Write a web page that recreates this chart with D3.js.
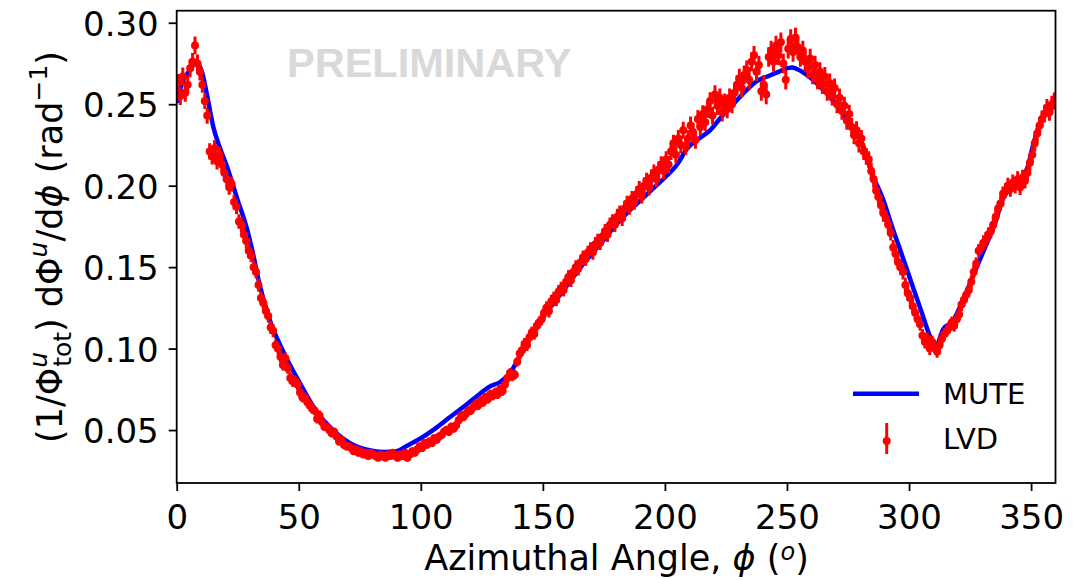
<!DOCTYPE html>
<html><head><meta charset="utf-8">
<script src="https://cdn.jsdelivr.net/npm/d3@7"></script>
<style>body{margin:0;background:#fff} svg{display:block} text{font-family:"DejaVu Sans",sans-serif}</style>
</head><body><svg id="c" width="1078" height="580"></svg>
<script>
const xTicks=[0,50,100,150,200,250,300,350];
const xTickLabels=["0","50","100","150","200","250","300","350"];
const yTicks=[0.05,0.10,0.15,0.20,0.25,0.30];
const yTickLabels=["0.05","0.10","0.15","0.20","0.25","0.30"];
const seriesNames=["MUTE","LVD"];

const muteAngle=[0,2.5,5,8,10.5,12.5,15,17.5,21,25,28.5,31,34,38,44,50,57,64,71,78,85,90,94,100,105,112,119,124,128,132.5,136.5,140.5,145,150,155,160,165,170,175,180,185,190,195,200,205,209,214,218.5,223,228,233,238,242,246,250,252,255.5,259,262.5,266,269,273,276,279,281.5,285,289.5,293,296.5,302,305,308.5,311,314,318,321,325,328,332,335,338.5,342.5,346,348.5,351,355,358,360];
const muteValue=[0.251,0.264,0.270,0.2755,0.269,0.255,0.236,0.224,0.210,0.191,0.175,0.160,0.139,0.118,0.097,0.080,0.062,0.050,0.042,0.038,0.0365,0.037,0.040,0.045,0.050,0.058,0.066,0.072,0.0765,0.0795,0.085,0.095,0.107,0.119,0.129,0.139,0.149,0.158,0.167,0.176,0.184,0.191,0.198,0.205,0.213,0.2226,0.229,0.234,0.242,0.250,0.258,0.2645,0.267,0.2695,0.272,0.2726,0.2706,0.267,0.2624,0.257,0.252,0.244,0.238,0.231,0.223,0.207,0.191,0.175,0.160,0.136,0.123,0.108,0.1015,0.112,0.117,0.126,0.140,0.151,0.165,0.176,0.192,0.200,0.204,0.211,0.226,0.243,0.247,0.250];

const lvdAngle=d3.range(0.5,360,1);
const lvdValue=[
0.263,0.255,0.267,0.257,0.262,0.272,0.276,0.286,0.275,0.270,
0.262,0.252,0.243,0.221,0.218,0.223,0.215,0.219,0.213,0.208,
0.204,0.199,0.201,0.190,0.187,0.178,0.176,0.170,0.166,0.160,
0.157,0.150,0.147,0.139,0.131,0.128,0.123,0.120,0.113,0.111,
0.102,0.100,0.095,0.090,0.094,0.088,0.082,0.080,0.080,0.078,
0.073,0.070,0.070,0.067,0.065,0.063,0.062,0.057,0.059,0.055,
0.052,0.052,0.050,0.048,0.049,0.046,0.043,0.044,0.041,0.040,
0.040,0.039,0.037,0.038,0.036,0.037,0.035,0.036,0.034,0.036,
0.035,0.034,0.033,0.035,0.034,0.033,0.035,0.034,0.036,0.034,
0.033,0.035,0.034,0.036,0.033,0.035,0.037,0.036,0.038,0.040,
0.039,0.042,0.041,0.043,0.042,0.045,0.044,0.046,0.047,0.049,
0.050,0.049,0.052,0.051,0.053,0.056,0.059,0.058,0.060,0.062,
0.062,0.064,0.066,0.065,0.068,0.067,0.070,0.069,0.072,0.071,
0.073,0.072,0.075,0.074,0.078,0.082,0.085,0.083,0.084,0.092,
0.097,0.099,0.103,0.102,0.107,0.110,0.109,0.114,0.116,0.118,
0.122,0.125,0.123,0.129,0.131,0.130,0.135,0.137,0.136,0.141,
0.144,0.142,0.147,0.150,0.149,0.153,0.156,0.155,0.159,0.161,
0.159,0.164,0.166,0.165,0.169,0.172,0.170,0.176,0.178,0.176,
0.181,0.183,0.180,0.186,0.189,0.187,0.192,0.190,0.195,0.198,
0.194,0.200,0.203,0.199,0.205,0.208,0.204,0.210,0.213,0.209,
0.216,0.213,0.221,0.226,0.219,0.229,0.225,0.234,0.224,0.229,
0.237,0.233,0.228,0.241,0.236,0.244,0.239,0.247,0.252,0.243,
0.256,0.249,0.254,0.245,0.251,0.247,0.254,0.250,0.257,0.262,
0.266,0.260,0.268,0.271,0.265,0.276,0.280,0.270,0.274,0.258,
0.262,0.256,0.279,0.283,0.276,0.286,0.280,0.288,0.275,0.265,
0.284,0.290,0.282,0.291,0.285,0.279,0.283,0.276,0.272,0.278,
0.268,0.274,0.265,0.270,0.262,0.267,0.258,0.263,0.255,0.260,
0.250,0.254,0.246,0.249,0.240,0.244,0.236,0.231,0.234,0.226,
0.229,0.221,0.218,0.216,0.209,0.204,0.197,0.193,0.188,0.183,
0.180,0.176,0.171,0.162,0.158,0.153,0.150,0.147,0.139,0.134,
0.131,0.126,0.122,0.118,0.115,0.108,0.104,0.106,0.100,0.104,
0.101,0.098,0.102,0.106,0.109,0.111,0.113,0.116,0.114,0.118,
0.121,0.127,0.130,0.133,0.136,0.141,0.147,0.152,0.160,0.162,
0.165,0.167,0.170,0.172,0.176,0.181,0.186,0.189,0.195,0.197,
0.200,0.198,0.202,0.200,0.204,0.199,0.205,0.203,0.208,0.214,
0.219,0.226,0.232,0.237,0.241,0.244,0.248,0.245,0.250,0.252];
// error half-width read per 10-degree band
const lvdErrorBand=[0.0055,0.005,0.0045,0.004,0.0035,0.003,0.0025,0.0022,0.0021,0.0022,
0.0024,0.0026,0.0028,0.003,0.0035,0.004,0.0042,0.0045,0.0048,0.005,
0.0052,0.0054,0.0056,0.0058,0.006,0.006,0.0058,0.0056,0.0052,0.0046,
0.004,0.0036,0.004,0.0045,0.0048,0.0052];

const svg=d3.select("#c");
const L=176.7,R=1055.5,T=10.7,B=483;
const x=d3.scaleLinear().domain([0,360]).range([L,R]);
const y=d3.scaleLinear().domain([0.0175,0.3074]).range([B,T]);

svg.append("defs").append("clipPath").attr("id","clip").append("rect")
  .attr("x",L).attr("y",T).attr("width",R-L).attr("height",B-T);

svg.append("text").attr("x",287).attr("y",77)
  .style("font-family","'Liberation Sans',Arial,sans-serif").style("font-weight","bold")
  .style("font-size","41.5px").attr("fill","#d9d9d9").text("PRELIMINARY");

const plot=svg.append("g").attr("clip-path","url(#clip)");
const line=d3.line().x((d,i)=>x(muteAngle[i])).y(d=>y(d)).curve(d3.curveMonotoneX);
plot.append("path").datum(muteValue).attr("d",line).attr("fill","none")
  .attr("stroke","#0000ff").attr("stroke-width",4.5);

const pts=lvdValue.map((v,i)=>({a:lvdAngle[i],v:v,e:lvdErrorBand[Math.floor(i/10)]}));
plot.append("g").selectAll("line").data(pts).join("line")
  .attr("x1",d=>x(d.a)).attr("x2",d=>x(d.a))
  .attr("y1",d=>y(d.v-d.e)).attr("y2",d=>y(d.v+d.e))
  .attr("stroke","#ff0000").attr("stroke-width",3);
plot.append("g").selectAll("circle").data(pts).join("circle")
  .attr("cx",d=>x(d.a)).attr("cy",d=>y(d.v)).attr("r",4).attr("fill","#ff0000");

const xAxis=d3.axisBottom(x).tickValues(xTicks).tickFormat((d,i)=>xTickLabels[i]).tickSize(8).tickPadding(6);
const gx=svg.append("g").attr("transform",`translate(0,${B})`).call(xAxis);
gx.select(".domain").remove();
gx.selectAll(".tick line").attr("stroke","#000").attr("stroke-width",1.8);
gx.selectAll(".tick text").style("font-size","34px").attr("fill","#000")
  .attr("dy",null).attr("y",46);

const yAxis=d3.axisLeft(y).tickValues(yTicks).tickFormat((d,i)=>yTickLabels[i]).tickSize(8).tickPadding(6);
const gy=svg.append("g").attr("transform",`translate(${L},0)`).call(yAxis);
gy.select(".domain").remove();
gy.selectAll(".tick line").attr("stroke","#000").attr("stroke-width",1.8);
gy.selectAll(".tick text").style("font-size","34px").attr("fill","#000")
  .attr("x",-18).attr("dy",null).attr("y",12.5);

svg.append("rect").attr("x",L).attr("y",T).attr("width",R-L).attr("height",B-T)
  .attr("fill","none").attr("stroke","#000").attr("stroke-width",1.8);

const xl=svg.append("text").attr("x",616.5).attr("y",570).attr("text-anchor","middle")
  .style("font-size","35px").attr("fill","#000");
xl.append("tspan").text("Azimuthal Angle, ");
xl.append("tspan").style("font-style","italic").text("ϕ");
xl.append("tspan").text(" (");
xl.append("tspan").style("font-style","italic").style("font-size","24px").attr("dy",-10).text("o");
xl.append("tspan").attr("dy",10).text(")");

const yl=svg.append("text").attr("transform","translate(62,247) rotate(-90)").attr("text-anchor","middle")
  .style("font-size","35px").attr("fill","#000");
yl.append("tspan").text("(1/Φ");
yl.append("tspan").style("font-style","italic").style("font-size","25px").attr("dy",-15).text("u");
yl.append("tspan").style("font-size","25px").attr("dx",-15).attr("dy",24).text("tot");
yl.append("tspan").attr("dy",-9).text(") dΦ");
yl.append("tspan").style("font-style","italic").style("font-size","25px").attr("dy",-15).text("u");
yl.append("tspan").attr("dy",15).text("/d");
yl.append("tspan").style("font-style","italic").text("ϕ");
yl.append("tspan").text(" (rad");
yl.append("tspan").style("font-size","25px").attr("dy",-15).text("−1");
yl.append("tspan").attr("dy",15).text(")");

const lg=svg.append("g");
lg.append("line").attr("x1",853).attr("x2",919).attr("y1",393.7).attr("y2",393.7)
  .attr("stroke","#0000ff").attr("stroke-width",4.5);
lg.append("text").attr("x",943).attr("y",404).style("font-size","29px").text(seriesNames[0]);
lg.append("line").attr("x1",886.7).attr("x2",886.7).attr("y1",423).attr("y2",454)
  .attr("stroke","#ff0000").attr("stroke-width",3);
lg.append("circle").attr("cx",886.7).attr("cy",441).attr("r",4).attr("fill","#ff0000");
lg.append("text").attr("x",943).attr("y",449).style("font-size","29px").text(seriesNames[1]);
</script></body></html>
